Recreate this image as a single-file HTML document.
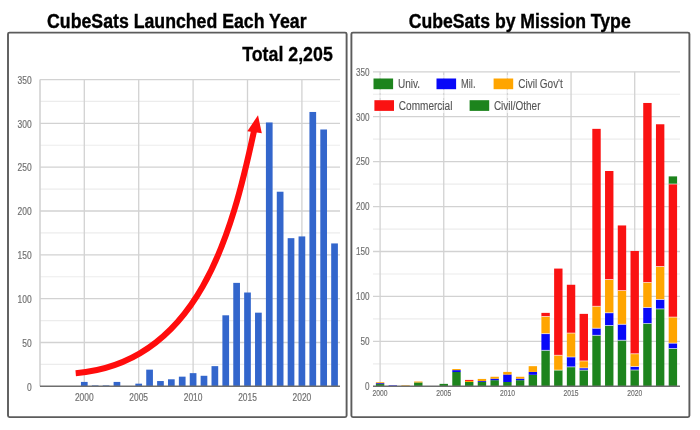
<!DOCTYPE html><html><head><meta charset="utf-8"><style>html,body{margin:0;padding:0;background:#fff;width:700px;height:430px;overflow:hidden}svg{display:block;filter:blur(0.4px)}text{font-family:"Liberation Sans",sans-serif}</style></head><body>
<svg width="700" height="430" viewBox="0 0 700 430">
<rect width="700" height="430" fill="#fff"/>
<line x1="40" x2="340" y1="364.39" y2="364.39" stroke="#ececec" stroke-width="1.2"/>
<line x1="40" x2="340" y1="320.56" y2="320.56" stroke="#ececec" stroke-width="1.2"/>
<line x1="40" x2="340" y1="276.74" y2="276.74" stroke="#ececec" stroke-width="1.2"/>
<line x1="40" x2="340" y1="232.91" y2="232.91" stroke="#ececec" stroke-width="1.2"/>
<line x1="40" x2="340" y1="189.09" y2="189.09" stroke="#ececec" stroke-width="1.2"/>
<line x1="40" x2="340" y1="145.26" y2="145.26" stroke="#ececec" stroke-width="1.2"/>
<line x1="40" x2="340" y1="101.44" y2="101.44" stroke="#ececec" stroke-width="1.2"/>
<line x1="40" x2="340" y1="342.48" y2="342.48" stroke="#d2d2d2" stroke-width="1.3"/>
<line x1="40" x2="340" y1="298.65" y2="298.65" stroke="#d2d2d2" stroke-width="1.3"/>
<line x1="40" x2="340" y1="254.83" y2="254.83" stroke="#d2d2d2" stroke-width="1.3"/>
<line x1="40" x2="340" y1="211.00" y2="211.00" stroke="#d2d2d2" stroke-width="1.3"/>
<line x1="40" x2="340" y1="167.18" y2="167.18" stroke="#d2d2d2" stroke-width="1.3"/>
<line x1="40" x2="340" y1="123.35" y2="123.35" stroke="#d2d2d2" stroke-width="1.3"/>
<line x1="40" x2="340" y1="79.53" y2="79.53" stroke="#d2d2d2" stroke-width="1.3"/>
<line x1="84.30" x2="84.30" y1="79.53" y2="386.30" stroke="#d2d2d2" stroke-width="1.3"/>
<line x1="138.70" x2="138.70" y1="79.53" y2="386.30" stroke="#d2d2d2" stroke-width="1.3"/>
<line x1="193.10" x2="193.10" y1="79.53" y2="386.30" stroke="#d2d2d2" stroke-width="1.3"/>
<line x1="247.50" x2="247.50" y1="79.53" y2="386.30" stroke="#d2d2d2" stroke-width="1.3"/>
<line x1="301.90" x2="301.90" y1="79.53" y2="386.30" stroke="#d2d2d2" stroke-width="1.3"/>
<line x1="40" x2="40" y1="79.53" y2="386.30" stroke="#d2d2d2" stroke-width="1.6"/>
<rect x="80.95" y="381.92" width="6.7" height="4.38" fill="#3366cc"/>
<rect x="91.83" y="385.42" width="6.7" height="0.88" fill="#3366cc"/>
<rect x="102.71" y="385.42" width="6.7" height="0.88" fill="#3366cc"/>
<rect x="113.59" y="381.92" width="6.7" height="4.38" fill="#3366cc"/>
<rect x="135.35" y="383.67" width="6.7" height="2.63" fill="#3366cc"/>
<rect x="146.23" y="369.65" width="6.7" height="16.65" fill="#3366cc"/>
<rect x="157.11" y="381.04" width="6.7" height="5.26" fill="#3366cc"/>
<rect x="167.99" y="379.29" width="6.7" height="7.01" fill="#3366cc"/>
<rect x="178.87" y="376.66" width="6.7" height="9.64" fill="#3366cc"/>
<rect x="189.75" y="373.15" width="6.7" height="13.15" fill="#3366cc"/>
<rect x="200.63" y="375.78" width="6.7" height="10.52" fill="#3366cc"/>
<rect x="211.51" y="366.14" width="6.7" height="20.16" fill="#3366cc"/>
<rect x="222.39" y="315.30" width="6.7" height="71.00" fill="#3366cc"/>
<rect x="233.27" y="282.87" width="6.7" height="103.43" fill="#3366cc"/>
<rect x="244.15" y="292.51" width="6.7" height="93.79" fill="#3366cc"/>
<rect x="255.03" y="312.67" width="6.7" height="73.63" fill="#3366cc"/>
<rect x="265.91" y="122.47" width="6.7" height="263.83" fill="#3366cc"/>
<rect x="276.79" y="191.72" width="6.7" height="194.58" fill="#3366cc"/>
<rect x="287.67" y="238.17" width="6.7" height="148.13" fill="#3366cc"/>
<rect x="298.55" y="236.42" width="6.7" height="149.88" fill="#3366cc"/>
<rect x="309.43" y="111.96" width="6.7" height="274.34" fill="#3366cc"/>
<rect x="320.31" y="129.49" width="6.7" height="256.81" fill="#3366cc"/>
<rect x="331.19" y="243.43" width="6.7" height="142.87" fill="#3366cc"/>
<line x1="40" x2="340" y1="386.30" y2="386.30" stroke="#6e6e6e" stroke-width="1.6"/>
<text x="31.6" y="390.50" font-size="10" fill="#707070" stroke="#707070" stroke-width="0.18" text-anchor="end" textLength="4.7" lengthAdjust="spacingAndGlyphs">0</text>
<text x="31.6" y="346.68" font-size="10" fill="#707070" stroke="#707070" stroke-width="0.18" text-anchor="end" textLength="9.4" lengthAdjust="spacingAndGlyphs">50</text>
<text x="31.6" y="302.85" font-size="10" fill="#707070" stroke="#707070" stroke-width="0.18" text-anchor="end" textLength="14.1" lengthAdjust="spacingAndGlyphs">100</text>
<text x="31.6" y="259.03" font-size="10" fill="#707070" stroke="#707070" stroke-width="0.18" text-anchor="end" textLength="14.1" lengthAdjust="spacingAndGlyphs">150</text>
<text x="31.6" y="215.20" font-size="10" fill="#707070" stroke="#707070" stroke-width="0.18" text-anchor="end" textLength="14.1" lengthAdjust="spacingAndGlyphs">200</text>
<text x="31.6" y="171.38" font-size="10" fill="#707070" stroke="#707070" stroke-width="0.18" text-anchor="end" textLength="14.1" lengthAdjust="spacingAndGlyphs">250</text>
<text x="31.6" y="127.55" font-size="10" fill="#707070" stroke="#707070" stroke-width="0.18" text-anchor="end" textLength="14.1" lengthAdjust="spacingAndGlyphs">300</text>
<text x="31.6" y="83.73" font-size="10" fill="#707070" stroke="#707070" stroke-width="0.18" text-anchor="end" textLength="14.1" lengthAdjust="spacingAndGlyphs">350</text>
<text x="84.30" y="401.1" font-size="10" fill="#707070" stroke="#707070" stroke-width="0.18" text-anchor="middle" textLength="18.7" lengthAdjust="spacingAndGlyphs">2000</text>
<text x="138.70" y="401.1" font-size="10" fill="#707070" stroke="#707070" stroke-width="0.18" text-anchor="middle" textLength="18.7" lengthAdjust="spacingAndGlyphs">2005</text>
<text x="193.10" y="401.1" font-size="10" fill="#707070" stroke="#707070" stroke-width="0.18" text-anchor="middle" textLength="18.7" lengthAdjust="spacingAndGlyphs">2010</text>
<text x="247.50" y="401.1" font-size="10" fill="#707070" stroke="#707070" stroke-width="0.18" text-anchor="middle" textLength="18.7" lengthAdjust="spacingAndGlyphs">2015</text>
<text x="301.90" y="401.1" font-size="10" fill="#707070" stroke="#707070" stroke-width="0.18" text-anchor="middle" textLength="18.7" lengthAdjust="spacingAndGlyphs">2020</text>
<path d="M75.7,373.3 C198.7,362.8 232.2,232.6 254,131" fill="none" stroke="#ff0c0c" stroke-width="6"/>
<polygon points="258,115.2 247.3,131.2 261.8,133.2" fill="#ff0c0c"/>
<text x="242.2" y="61.2" font-size="20" font-weight="bold" fill="#000" stroke="#000" stroke-width="0.3" textLength="90.6" lengthAdjust="spacingAndGlyphs">Total 2,205</text>
<line x1="373" x2="680" y1="363.84" y2="363.84" stroke="#ececec" stroke-width="1.2"/>
<line x1="373" x2="680" y1="318.91" y2="318.91" stroke="#ececec" stroke-width="1.2"/>
<line x1="373" x2="680" y1="273.98" y2="273.98" stroke="#ececec" stroke-width="1.2"/>
<line x1="373" x2="680" y1="229.05" y2="229.05" stroke="#ececec" stroke-width="1.2"/>
<line x1="373" x2="680" y1="184.12" y2="184.12" stroke="#ececec" stroke-width="1.2"/>
<line x1="373" x2="680" y1="139.19" y2="139.19" stroke="#ececec" stroke-width="1.2"/>
<line x1="373" x2="680" y1="94.26" y2="94.26" stroke="#ececec" stroke-width="1.2"/>
<line x1="373" x2="680" y1="341.37" y2="341.37" stroke="#d2d2d2" stroke-width="1.3"/>
<line x1="373" x2="680" y1="296.44" y2="296.44" stroke="#d2d2d2" stroke-width="1.3"/>
<line x1="373" x2="680" y1="251.51" y2="251.51" stroke="#d2d2d2" stroke-width="1.3"/>
<line x1="373" x2="680" y1="206.58" y2="206.58" stroke="#d2d2d2" stroke-width="1.3"/>
<line x1="373" x2="680" y1="161.65" y2="161.65" stroke="#d2d2d2" stroke-width="1.3"/>
<line x1="373" x2="680" y1="116.72" y2="116.72" stroke="#d2d2d2" stroke-width="1.3"/>
<line x1="373" x2="680" y1="71.79" y2="71.79" stroke="#d2d2d2" stroke-width="1.3"/>
<line x1="380.10" x2="380.10" y1="71.79" y2="386.30" stroke="#d2d2d2" stroke-width="1.3"/>
<line x1="443.75" x2="443.75" y1="71.79" y2="386.30" stroke="#d2d2d2" stroke-width="1.3"/>
<line x1="507.40" x2="507.40" y1="71.79" y2="386.30" stroke="#d2d2d2" stroke-width="1.3"/>
<line x1="571.05" x2="571.05" y1="71.79" y2="386.30" stroke="#d2d2d2" stroke-width="1.3"/>
<line x1="634.70" x2="634.70" y1="71.79" y2="386.30" stroke="#d2d2d2" stroke-width="1.3"/>
<line x1="380.10" x2="380.10" y1="75" y2="113" stroke="#fff" stroke-width="1.6" stroke-dasharray="3 2" opacity="0.6"/>
<line x1="443.75" x2="443.75" y1="75" y2="113" stroke="#fff" stroke-width="1.6" stroke-dasharray="3 2" opacity="0.6"/>
<line x1="507.40" x2="507.40" y1="75" y2="113" stroke="#fff" stroke-width="1.6" stroke-dasharray="3 2" opacity="0.6"/>
<rect x="375.90" y="384.05" width="8.4" height="2.25" fill="#1d841d"/>
<rect x="375.90" y="383.15" width="8.4" height="0.90" fill="#0808f8"/>
<rect x="375.90" y="382.26" width="8.4" height="0.90" fill="#ffa500"/>
<rect x="388.63" y="385.40" width="8.4" height="0.90" fill="#0808f8"/>
<rect x="401.36" y="385.40" width="8.4" height="0.90" fill="#ffa500"/>
<rect x="414.09" y="382.44" width="8.4" height="3.86" fill="#1d841d"/>
<rect x="414.09" y="381.54" width="8.4" height="0.90" fill="#ffa500"/>
<rect x="439.55" y="383.87" width="8.4" height="2.43" fill="#1d841d"/>
<rect x="452.28" y="372.01" width="8.4" height="14.29" fill="#1d841d"/>
<rect x="452.28" y="370.13" width="8.4" height="1.89" fill="#0808f8"/>
<rect x="452.28" y="369.05" width="8.4" height="1.08" fill="#ffa500"/>
<rect x="465.01" y="381.99" width="8.4" height="4.31" fill="#1d841d"/>
<rect x="465.01" y="380.91" width="8.4" height="1.08" fill="#ffa500"/>
<rect x="465.01" y="379.92" width="8.4" height="0.99" fill="#fa1212"/>
<rect x="477.74" y="381.99" width="8.4" height="4.31" fill="#1d841d"/>
<rect x="477.74" y="381.09" width="8.4" height="0.90" fill="#0808f8"/>
<rect x="477.74" y="378.93" width="8.4" height="2.16" fill="#ffa500"/>
<rect x="490.47" y="380.19" width="8.4" height="6.11" fill="#1d841d"/>
<rect x="490.47" y="378.66" width="8.4" height="1.53" fill="#0808f8"/>
<rect x="490.47" y="376.77" width="8.4" height="1.89" fill="#ffa500"/>
<rect x="503.20" y="381.99" width="8.4" height="4.31" fill="#1d841d"/>
<rect x="503.20" y="374.53" width="8.4" height="7.46" fill="#0808f8"/>
<rect x="503.20" y="371.92" width="8.4" height="2.61" fill="#ffa500"/>
<rect x="515.93" y="380.19" width="8.4" height="6.11" fill="#1d841d"/>
<rect x="515.93" y="378.66" width="8.4" height="1.53" fill="#0808f8"/>
<rect x="515.93" y="376.77" width="8.4" height="1.89" fill="#ffa500"/>
<rect x="528.66" y="374.80" width="8.4" height="11.50" fill="#1d841d"/>
<rect x="528.66" y="371.92" width="8.4" height="2.88" fill="#0808f8"/>
<rect x="528.66" y="366.17" width="8.4" height="5.75" fill="#ffa500"/>
<rect x="541.39" y="350.36" width="8.4" height="35.94" fill="#1d841d"/>
<rect x="541.39" y="333.64" width="8.4" height="16.71" fill="#0808f8"/>
<rect x="541.39" y="316.48" width="8.4" height="17.16" fill="#ffa500"/>
<rect x="541.39" y="312.88" width="8.4" height="3.59" fill="#fa1212"/>
<line x1="541.39" x2="549.79" y1="350.36" y2="350.36" stroke="#fff" stroke-width="0.8" opacity="0.75"/>
<line x1="541.39" x2="549.79" y1="333.64" y2="333.64" stroke="#fff" stroke-width="0.8" opacity="0.75"/>
<line x1="541.39" x2="549.79" y1="316.48" y2="316.48" stroke="#fff" stroke-width="0.8" opacity="0.75"/>
<rect x="554.12" y="370.13" width="8.4" height="16.17" fill="#1d841d"/>
<rect x="554.12" y="355.30" width="8.4" height="14.83" fill="#ffa500"/>
<rect x="554.12" y="268.58" width="8.4" height="86.71" fill="#fa1212"/>
<line x1="554.12" x2="562.52" y1="370.13" y2="370.13" stroke="#fff" stroke-width="0.8" opacity="0.75"/>
<line x1="554.12" x2="562.52" y1="355.30" y2="355.30" stroke="#fff" stroke-width="0.8" opacity="0.75"/>
<rect x="566.85" y="366.89" width="8.4" height="19.41" fill="#1d841d"/>
<rect x="566.85" y="357.01" width="8.4" height="9.88" fill="#0808f8"/>
<rect x="566.85" y="333.10" width="8.4" height="23.90" fill="#ffa500"/>
<rect x="566.85" y="284.76" width="8.4" height="48.34" fill="#fa1212"/>
<line x1="566.85" x2="575.25" y1="366.89" y2="366.89" stroke="#fff" stroke-width="0.8" opacity="0.75"/>
<line x1="566.85" x2="575.25" y1="357.01" y2="357.01" stroke="#fff" stroke-width="0.8" opacity="0.75"/>
<line x1="566.85" x2="575.25" y1="333.10" y2="333.10" stroke="#fff" stroke-width="0.8" opacity="0.75"/>
<rect x="579.58" y="370.13" width="8.4" height="16.17" fill="#1d841d"/>
<rect x="579.58" y="367.97" width="8.4" height="2.16" fill="#0808f8"/>
<rect x="579.58" y="360.96" width="8.4" height="7.01" fill="#ffa500"/>
<rect x="579.58" y="313.87" width="8.4" height="47.09" fill="#fa1212"/>
<line x1="579.58" x2="587.98" y1="370.13" y2="370.13" stroke="#fff" stroke-width="0.8" opacity="0.75"/>
<line x1="579.58" x2="587.98" y1="367.97" y2="367.97" stroke="#fff" stroke-width="0.8" opacity="0.75"/>
<line x1="579.58" x2="587.98" y1="360.96" y2="360.96" stroke="#fff" stroke-width="0.8" opacity="0.75"/>
<rect x="592.31" y="335.35" width="8.4" height="50.95" fill="#1d841d"/>
<rect x="592.31" y="328.25" width="8.4" height="7.10" fill="#0808f8"/>
<rect x="592.31" y="306.32" width="8.4" height="21.93" fill="#ffa500"/>
<rect x="592.31" y="128.85" width="8.4" height="177.47" fill="#fa1212"/>
<line x1="592.31" x2="600.71" y1="335.35" y2="335.35" stroke="#fff" stroke-width="0.8" opacity="0.75"/>
<line x1="592.31" x2="600.71" y1="328.25" y2="328.25" stroke="#fff" stroke-width="0.8" opacity="0.75"/>
<line x1="592.31" x2="600.71" y1="306.32" y2="306.32" stroke="#fff" stroke-width="0.8" opacity="0.75"/>
<rect x="605.04" y="325.46" width="8.4" height="60.84" fill="#1d841d"/>
<rect x="605.04" y="312.79" width="8.4" height="12.67" fill="#0808f8"/>
<rect x="605.04" y="279.55" width="8.4" height="33.25" fill="#ffa500"/>
<rect x="605.04" y="171.00" width="8.4" height="108.55" fill="#fa1212"/>
<line x1="605.04" x2="613.44" y1="325.46" y2="325.46" stroke="#fff" stroke-width="0.8" opacity="0.75"/>
<line x1="605.04" x2="613.44" y1="312.79" y2="312.79" stroke="#fff" stroke-width="0.8" opacity="0.75"/>
<line x1="605.04" x2="613.44" y1="279.55" y2="279.55" stroke="#fff" stroke-width="0.8" opacity="0.75"/>
<rect x="617.77" y="340.29" width="8.4" height="46.01" fill="#1d841d"/>
<rect x="617.77" y="324.30" width="8.4" height="16.00" fill="#0808f8"/>
<rect x="617.77" y="290.60" width="8.4" height="33.70" fill="#ffa500"/>
<rect x="617.77" y="225.45" width="8.4" height="65.15" fill="#fa1212"/>
<line x1="617.77" x2="626.17" y1="340.29" y2="340.29" stroke="#fff" stroke-width="0.8" opacity="0.75"/>
<line x1="617.77" x2="626.17" y1="324.30" y2="324.30" stroke="#fff" stroke-width="0.8" opacity="0.75"/>
<line x1="617.77" x2="626.17" y1="290.60" y2="290.60" stroke="#fff" stroke-width="0.8" opacity="0.75"/>
<rect x="630.50" y="370.04" width="8.4" height="16.26" fill="#1d841d"/>
<rect x="630.50" y="366.53" width="8.4" height="3.50" fill="#0808f8"/>
<rect x="630.50" y="353.77" width="8.4" height="12.76" fill="#ffa500"/>
<rect x="630.50" y="250.97" width="8.4" height="102.80" fill="#fa1212"/>
<line x1="630.50" x2="638.90" y1="370.04" y2="370.04" stroke="#fff" stroke-width="0.8" opacity="0.75"/>
<line x1="630.50" x2="638.90" y1="366.53" y2="366.53" stroke="#fff" stroke-width="0.8" opacity="0.75"/>
<line x1="630.50" x2="638.90" y1="353.77" y2="353.77" stroke="#fff" stroke-width="0.8" opacity="0.75"/>
<rect x="643.23" y="323.40" width="8.4" height="62.90" fill="#1d841d"/>
<rect x="643.23" y="307.49" width="8.4" height="15.91" fill="#0808f8"/>
<rect x="643.23" y="282.42" width="8.4" height="25.07" fill="#ffa500"/>
<rect x="643.23" y="102.97" width="8.4" height="179.45" fill="#fa1212"/>
<line x1="643.23" x2="651.63" y1="323.40" y2="323.40" stroke="#fff" stroke-width="0.8" opacity="0.75"/>
<line x1="643.23" x2="651.63" y1="307.49" y2="307.49" stroke="#fff" stroke-width="0.8" opacity="0.75"/>
<line x1="643.23" x2="651.63" y1="282.42" y2="282.42" stroke="#fff" stroke-width="0.8" opacity="0.75"/>
<rect x="655.96" y="308.93" width="8.4" height="77.37" fill="#1d841d"/>
<rect x="655.96" y="299.41" width="8.4" height="9.53" fill="#0808f8"/>
<rect x="655.96" y="266.52" width="8.4" height="32.89" fill="#ffa500"/>
<rect x="655.96" y="124.27" width="8.4" height="142.25" fill="#fa1212"/>
<line x1="655.96" x2="664.36" y1="308.93" y2="308.93" stroke="#fff" stroke-width="0.8" opacity="0.75"/>
<line x1="655.96" x2="664.36" y1="299.41" y2="299.41" stroke="#fff" stroke-width="0.8" opacity="0.75"/>
<line x1="655.96" x2="664.36" y1="266.52" y2="266.52" stroke="#fff" stroke-width="0.8" opacity="0.75"/>
<rect x="668.69" y="348.56" width="8.4" height="37.74" fill="#1d841d"/>
<rect x="668.69" y="343.17" width="8.4" height="5.39" fill="#0808f8"/>
<rect x="668.69" y="317.11" width="8.4" height="26.06" fill="#ffa500"/>
<rect x="668.69" y="184.03" width="8.4" height="133.08" fill="#fa1212"/>
<rect x="668.69" y="176.39" width="8.4" height="7.64" fill="#1d841d"/>
<line x1="668.69" x2="677.09" y1="348.56" y2="348.56" stroke="#fff" stroke-width="0.8" opacity="0.75"/>
<line x1="668.69" x2="677.09" y1="343.17" y2="343.17" stroke="#fff" stroke-width="0.8" opacity="0.75"/>
<line x1="668.69" x2="677.09" y1="317.11" y2="317.11" stroke="#fff" stroke-width="0.8" opacity="0.75"/>
<line x1="668.69" x2="677.09" y1="184.03" y2="184.03" stroke="#fff" stroke-width="0.8" opacity="0.75"/>
<line x1="373" x2="680" y1="386.30" y2="386.30" stroke="#6e6e6e" stroke-width="1.6"/>
<text x="369.6" y="390.10" font-size="10.3" fill="#707070" stroke="#707070" stroke-width="0.18" text-anchor="end" textLength="4.5" lengthAdjust="spacingAndGlyphs">0</text>
<text x="369.6" y="345.17" font-size="10.3" fill="#707070" stroke="#707070" stroke-width="0.18" text-anchor="end" textLength="9.1" lengthAdjust="spacingAndGlyphs">50</text>
<text x="369.6" y="300.24" font-size="10.3" fill="#707070" stroke="#707070" stroke-width="0.18" text-anchor="end" textLength="13.6" lengthAdjust="spacingAndGlyphs">100</text>
<text x="369.6" y="255.31" font-size="10.3" fill="#707070" stroke="#707070" stroke-width="0.18" text-anchor="end" textLength="13.6" lengthAdjust="spacingAndGlyphs">150</text>
<text x="369.6" y="210.38" font-size="10.3" fill="#707070" stroke="#707070" stroke-width="0.18" text-anchor="end" textLength="13.6" lengthAdjust="spacingAndGlyphs">200</text>
<text x="369.6" y="165.45" font-size="10.3" fill="#707070" stroke="#707070" stroke-width="0.18" text-anchor="end" textLength="13.6" lengthAdjust="spacingAndGlyphs">250</text>
<text x="369.6" y="120.52" font-size="10.3" fill="#707070" stroke="#707070" stroke-width="0.18" text-anchor="end" textLength="13.6" lengthAdjust="spacingAndGlyphs">300</text>
<text x="369.6" y="75.59" font-size="10.3" fill="#707070" stroke="#707070" stroke-width="0.18" text-anchor="end" textLength="13.6" lengthAdjust="spacingAndGlyphs">350</text>
<text x="380.10" y="395.9" font-size="9" fill="#707070" stroke="#707070" stroke-width="0.18" text-anchor="middle" textLength="15" lengthAdjust="spacingAndGlyphs">2000</text>
<text x="443.75" y="395.9" font-size="9" fill="#707070" stroke="#707070" stroke-width="0.18" text-anchor="middle" textLength="15" lengthAdjust="spacingAndGlyphs">2005</text>
<text x="507.40" y="395.9" font-size="9" fill="#707070" stroke="#707070" stroke-width="0.18" text-anchor="middle" textLength="15" lengthAdjust="spacingAndGlyphs">2010</text>
<text x="571.05" y="395.9" font-size="9" fill="#707070" stroke="#707070" stroke-width="0.18" text-anchor="middle" textLength="15" lengthAdjust="spacingAndGlyphs">2015</text>
<text x="634.70" y="395.9" font-size="9" fill="#707070" stroke="#707070" stroke-width="0.18" text-anchor="middle" textLength="15" lengthAdjust="spacingAndGlyphs">2020</text>
<rect x="373.5" y="78.5" width="19.6" height="10.7" fill="#1d841d"/>
<text x="398" y="88.1" font-size="12" fill="#555" stroke="#555" stroke-width="0.12" textLength="22.1" lengthAdjust="spacingAndGlyphs">Univ.</text>
<rect x="436.5" y="78.5" width="19.6" height="10.7" fill="#0808f8"/>
<text x="461" y="88.1" font-size="12" fill="#555" stroke="#555" stroke-width="0.12" textLength="14.5" lengthAdjust="spacingAndGlyphs">Mil.</text>
<rect x="493.6" y="78.5" width="19.6" height="10.7" fill="#ffa500"/>
<text x="518.3" y="88.1" font-size="12" fill="#555" stroke="#555" stroke-width="0.12" textLength="44.5" lengthAdjust="spacingAndGlyphs">Civil Gov't</text>
<rect x="374.4" y="100.2" width="19.6" height="10.7" fill="#fa1212"/>
<text x="398.8" y="109.8" font-size="12" fill="#555" stroke="#555" stroke-width="0.12" textLength="53.6" lengthAdjust="spacingAndGlyphs">Commercial</text>
<rect x="469.6" y="100.2" width="19.6" height="10.7" fill="#1d841d"/>
<text x="493.9" y="109.8" font-size="12" fill="#555" stroke="#555" stroke-width="0.12" textLength="46.6" lengthAdjust="spacingAndGlyphs">Civil/Other</text>
<rect x="8" y="32.6" width="338.6" height="384.5" rx="1.5" fill="none" stroke="#5c5c5c" stroke-width="1.9"/>
<rect x="351.4" y="32.6" width="338" height="384.5" rx="1.5" fill="none" stroke="#5c5c5c" stroke-width="1.9"/>
<text x="176.8" y="28" font-size="20.3" font-weight="bold" fill="#000" stroke="#000" stroke-width="0.4" text-anchor="middle" textLength="259.5" lengthAdjust="spacingAndGlyphs">CubeSats Launched Each Year</text>
<text x="519.7" y="28" font-size="20.3" font-weight="bold" fill="#000" stroke="#000" stroke-width="0.4" text-anchor="middle" textLength="222" lengthAdjust="spacingAndGlyphs">CubeSats by Mission Type</text>
</svg></body></html>
